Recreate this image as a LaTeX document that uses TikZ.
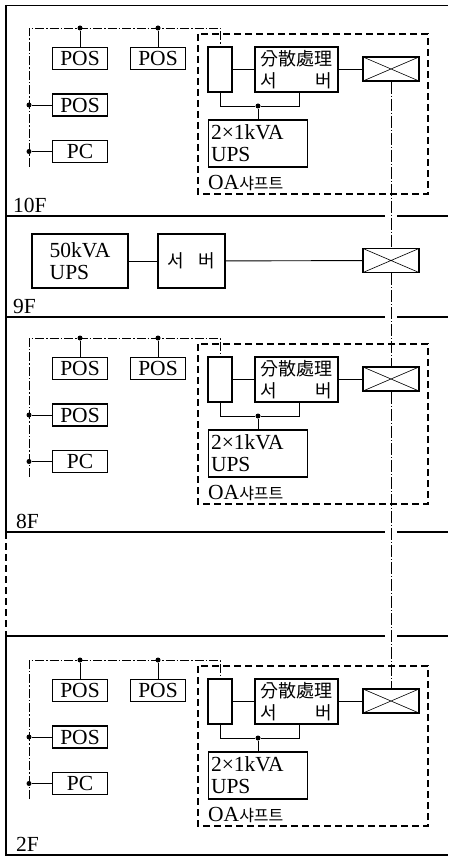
\documentclass[tikz,border=0pt]{standalone}
\usepackage{fontspec}
\setmainfont{Liberation Serif}
\newfontfamily\cjk{Noto Sans CJK KR}
\usetikzlibrary{positioning}

\begin{document}
\begin{tikzpicture}[
  x=1pt, y=-1pt,
  font=\fontsize{21.5}{22}\selectfont,
  unit/.style={draw, line width=1.5pt, inner sep=0pt},
  term/.style={unit, minimum width=55pt, minimum height=22pt},
  hub/.style={unit, minimum width=56pt, minimum height=24pt,
    path picture={\draw[line width=0.6pt]
      (path picture bounding box.north west) -- (path picture bounding box.south east)
      (path picture bounding box.south west) -- (path picture bounding box.north east);}},
  hangul/.style={font=\cjk\fontsize{18}{22}\selectfont},
  wire/.style={line width=0.9pt},
  bus/.style={line width=0.9pt, dash pattern=on 9pt off 2pt on 1.5pt off 2pt},
  riser/.style={line width=0.7pt, dash pattern=on 12pt off 2pt on 1pt off 2pt},
  shaft/.style={line width=1.1pt, dash pattern=on 7pt off 4pt},
  floor/.style={line width=1.6pt},
  dot/.style={circle, fill, inner sep=0pt, minimum size=5pt},
  flabel/.style={anchor=south west, inner sep=0pt}
]
  \useasboundingbox (0,0) rectangle (448,858);

  % building outline and slabs
  \draw[floor] (6,5) -- (6,532);
  \draw[shaft] (6,532) -- (6,636);
  \draw[floor] (6,636) -- (6,855) -- (448,855);
  \draw[line width=0.9pt] (6,5) -- (448,5);
  \foreach \y in {216,317,532,636}
    \draw[floor] (6,\y) -- (385,\y) (397,\y) -- (448,\y);

  % office floors (10F, 8F, 2F)
  \foreach \f/\dy in {10/0, 8/310, 2/632}{
  \begin{scope}[yshift=-\dy pt]
    \node[term] (pos1-\f) at (80,58.5) {POS};
    \node[term] (pos2-\f) at (158,58.5) {POS};
    \node[term] (pos3-\f) at (80,105) {POS};
    \node[term] (pc-\f) at (80,151.5) {PC};
    \node[unit, minimum width=24pt, minimum height=45pt] (rack-\f) at (220,69.5) {};
    \node[unit, hangul, minimum width=83pt, minimum height=45pt, align=left] (srv-\f) at (296.5,69.5)
      {分散處理\\\makebox[72pt]{서\hfill 버}};
    \node[unit, minimum width=99pt, minimum height=47pt, text width=94pt, align=left] (ups-\f) at (258,143.5)
      {2×1kVA\\UPS};
    \node[hub] (sw-\f) at (391,69) {};
    \node[anchor=west, inner sep=0pt] (oa-\f) at (208,183)
      {OA{\cjk\fontsize{16}{16}\selectfont 샤프트}};
    \draw[shaft] (198,34) rectangle (428,194);
    % LAN
    \coordinate (bl-\f) at (29,28);
    \coordinate (bb-\f) at (29,167);
    \draw[bus] (bb-\f) -- (bl-\f) -- (rack-\f.north |- bl-\f) -- (rack-\f.north);
    \node[dot] (d1-\f) at (pos1-\f.north |- bl-\f) {};
    \node[dot] (d2-\f) at (pos2-\f.north |- bl-\f) {};
    \node[dot] (d3-\f) at (bl-\f |- pos3-\f) {};
    \node[dot] (d4-\f) at (bl-\f |- pc-\f) {};
    \draw[wire] (d1-\f) -- (pos1-\f);
    \draw[wire] (d2-\f) -- (pos2-\f);
    \draw[wire] (d3-\f) -- (pos3-\f);
    \draw[wire] (d4-\f) -- (pc-\f);
    \draw[wire] (rack-\f) -- (srv-\f);
    \draw[wire] (srv-\f.east) -- (srv-\f.east -| sw-\f.west);
    % power
    \node[dot] (dj-\f) at (258,106) {};
    \draw[wire] (rack-\f.south) |- (dj-\f) -| ([xshift=2.5pt]srv-\f.south);
    \draw[wire] (dj-\f) -- (ups-\f);
  \end{scope}}

  % 9F
  \node[unit, minimum width=96pt, minimum height=54pt, align=left] (ups50) at (80,261) {50kVA\\UPS};
  \node[unit, hangul, minimum width=67pt, minimum height=54pt] (srv9) at (191.5,261)
    {\makebox[48pt]{서\hfill 버}};
  \node[hub] (sw9) at (391,260.5) {};
  \draw[wire] (ups50) -- (srv9);
  \draw[wire] (srv9) -- (sw9);

  % riser
  \draw[riser] (sw-10) -- (sw9);
  \draw[riser] (sw9) -- (sw-8);
  \draw[riser] (sw-8) -- (sw-2);

  \node[flabel] (f10) at (13,213) {10F};
  \node[flabel] (f9) at (13,314) {9F};
  \node[flabel] (f8) at (16,529) {8F};
  \node[flabel] (f2) at (16,852) {2F};
\end{tikzpicture}
\end{document}
